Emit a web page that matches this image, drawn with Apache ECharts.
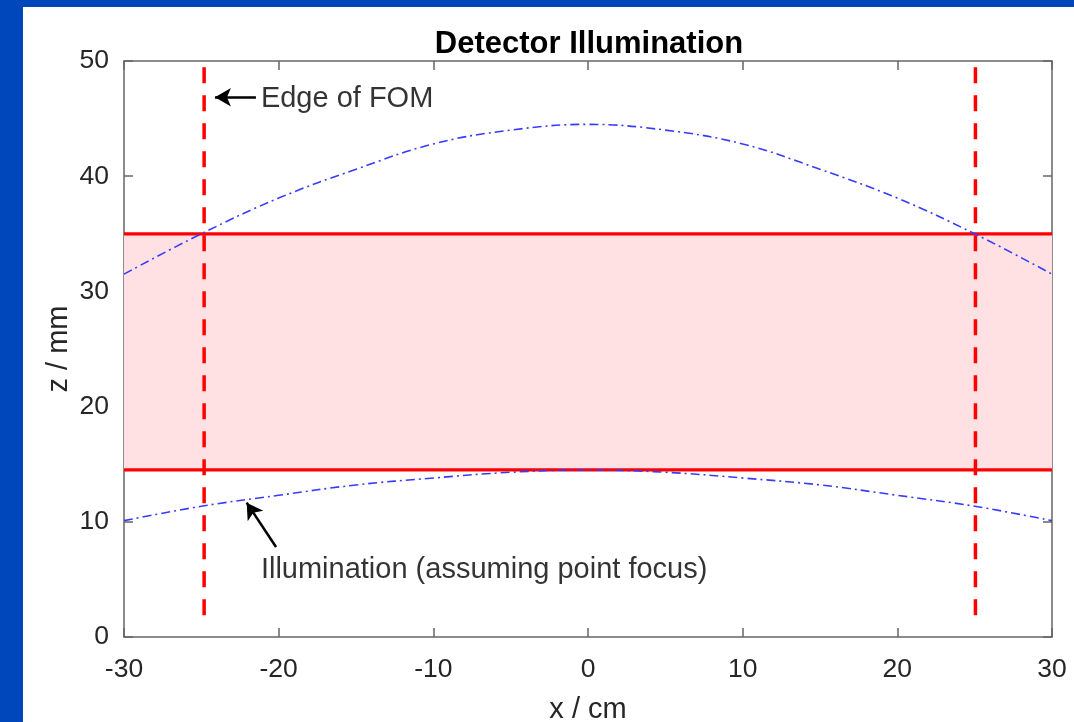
<!DOCTYPE html>
<html>
<head>
<meta charset="utf-8">
<script src="https://cdn.jsdelivr.net/npm/echarts@6/dist/echarts.min.js"></script>
<style>
  html, body { margin: 0; padding: 0; background: #0047BB; width: 1074px; height: 722px; overflow: hidden; }
  #chart { position: absolute; left: 23px; top: 7px; width: 1051px; height: 715px; background: #ffffff; }
</style>
</head>
<body>
<div id="chart"></div>
<script>
// ---- data ----
const titleText = 'Detector Illumination';
const xName = 'x / cm';
const yName = 'z / mm';
const xTicks = [-30, -20, -10, 0, 10, 20, 30];
const yTicks = [0, 10, 20, 30, 40, 50];
const curveX = [-30, -25, -20, -15, -10, -5, 0, 5, 10, 15, 20, 25, 30];
const upperZ = [31.5, 35.0, 38.1, 40.6, 42.8, 44.0, 44.5, 44.0, 42.8, 40.6, 38.1, 35.0, 31.5];
const lowerZ = [10.1, 11.35, 12.3, 13.2, 13.8, 14.3, 14.5, 14.3, 13.8, 13.2, 12.3, 11.35, 10.1];
const bandLow = 14.5;
const bandHigh = 35;
const fomEdges = [-24.82, 25.05];
const fomZ = [49.45, 1.77];
const edgeLabel = 'Edge of FOM';
const edgeText = [-21.15, 46.7];
const edgeArrow = [[-21.47, 46.85], [-24.12, 46.85]];
const illumLabel = 'Illumination (assuming point focus)';
const illumText = [-21.15, 5.85];
const illumArrow = [[-20.17, 7.81], [-22.07, 11.66]];

// ---- build ----
const FONT = '"Liberation Sans", Arial, sans-serif';
const zip = (xs, ys) => xs.map((x, i) => [x, ys[i]]);
const xMin = xTicks[0], xMax = xTicks[xTicks.length - 1];
const yMin = yTicks[0], yMax = yTicks[yTicks.length - 1];
const axisGray = '#666666';
const gridLeft = 101, gridRight = 22;
const chartW = 1051;

const chart = echarts.init(document.getElementById('chart'), null, { renderer: 'canvas' });

const series = [
  {
    type: 'line', name: 'band', data: [[xMin, bandHigh], [xMax, bandHigh]],
    symbol: 'none', lineStyle: { color: '#ff0000', width: 3.2 }, z: 3,
    markArea: {
      silent: true,
      itemStyle: { color: '#ffe1e4', opacity: 1 },
      data: [[{ coord: [xMin, bandLow] }, { coord: [xMax, bandHigh] }]]
    }
  },
  {
    type: 'line', name: 'bandLow', data: [[xMin, bandLow], [xMax, bandLow]],
    symbol: 'none', lineStyle: { color: '#ff0000', width: 3.2 }, z: 3
  },
  ...fomEdges.map((x, i) => ({
    type: 'line', name: 'fom' + i, data: [[x, fomZ[0]], [x, fomZ[1]]],
    symbol: 'none', lineStyle: { color: '#ff0000', width: 3.5, type: [16, 12] }, z: 4
  })),
  {
    type: 'line', name: 'upper', data: zip(curveX, upperZ), smooth: 0.4,
    symbol: 'none', lineStyle: { color: '#3a3aff', width: 1.6, type: [9, 4, 2, 4] }, z: 5
  },
  {
    type: 'line', name: 'lower', data: zip(curveX, lowerZ), smooth: 0.4,
    symbol: 'none', lineStyle: { color: '#3a3aff', width: 1.6, type: [9, 4, 2, 4] }, z: 5
  },
  {
    type: 'scatter', name: 'notes', symbolSize: 0, silent: true, z: 6,
    data: [
      { name: edgeLabel, value: edgeText },
      { name: illumLabel, value: illumText }
    ],
    label: {
      show: true, position: 'right', distance: 0, formatter: p => p.name,
      color: '#000000', fontFamily: FONT, fontSize: 29
    },
    markLine: {
      silent: true, symbol: ['none', 'arrow'], symbolSize: [14, 16],
      lineStyle: { color: '#000000', width: 2.5, type: 'solid' },
      label: { show: false },
      data: [
        [{ coord: edgeArrow[0] }, { coord: edgeArrow[1] }],
        [{ coord: illumArrow[0] }, { coord: illumArrow[1] }]
      ]
    }
  }
];

const baseX = {
  type: 'value', min: xMin, max: xMax, interval: 10,
  axisLine: { show: true, onZero: false, lineStyle: { color: axisGray, width: 1.5 } },
  axisTick: { show: true, inside: true, length: 9, lineStyle: { color: axisGray, width: 1.5 } },
  splitLine: { show: false }
};
const baseY = {
  type: 'value', min: yMin, max: yMax, interval: 10,
  axisLine: { show: true, onZero: false, lineStyle: { color: axisGray, width: 1.5 } },
  axisTick: { show: true, inside: true, length: 9, lineStyle: { color: axisGray, width: 1.5 } },
  splitLine: { show: false }
};

chart.setOption({
  animation: false,
  backgroundColor: '#ffffff',
  title: {
    text: titleText, left: gridLeft + (chartW - gridLeft - gridRight) / 2 - 4, textAlign: 'center', top: 17,
    textStyle: { color: '#000000', fontFamily: FONT, fontSize: 31, fontWeight: 'bold' }
  },
  grid: { left: gridLeft, right: gridRight, top: 54, bottom: 85, containLabel: false, outerBoundsMode: 'none' },
  xAxis: [
    Object.assign({}, baseX, {
      position: 'bottom', name: xName, nameLocation: 'middle', nameGap: 58, nameMoveOverlap: false,
      nameTextStyle: { color: '#262626', fontFamily: FONT, fontSize: 29 },
      axisLabel: { color: '#262626', fontFamily: FONT, fontSize: 26.5, margin: 19 }
    }),
    Object.assign({}, baseX, { position: 'top', axisLabel: { show: false } })
  ],
  yAxis: [
    Object.assign({}, baseY, {
      position: 'left', name: yName, nameLocation: 'middle', nameGap: 51, nameMoveOverlap: false,
      nameTextStyle: { color: '#262626', fontFamily: FONT, fontSize: 29 },
      axisLabel: { color: '#262626', fontFamily: FONT, fontSize: 26.5, margin: 15, padding: [6, 0, 0, 0] }
    }),
    Object.assign({}, baseY, { position: 'right', axisLabel: { show: false } })
  ],
  series: series
});
</script>
</body>
</html>
